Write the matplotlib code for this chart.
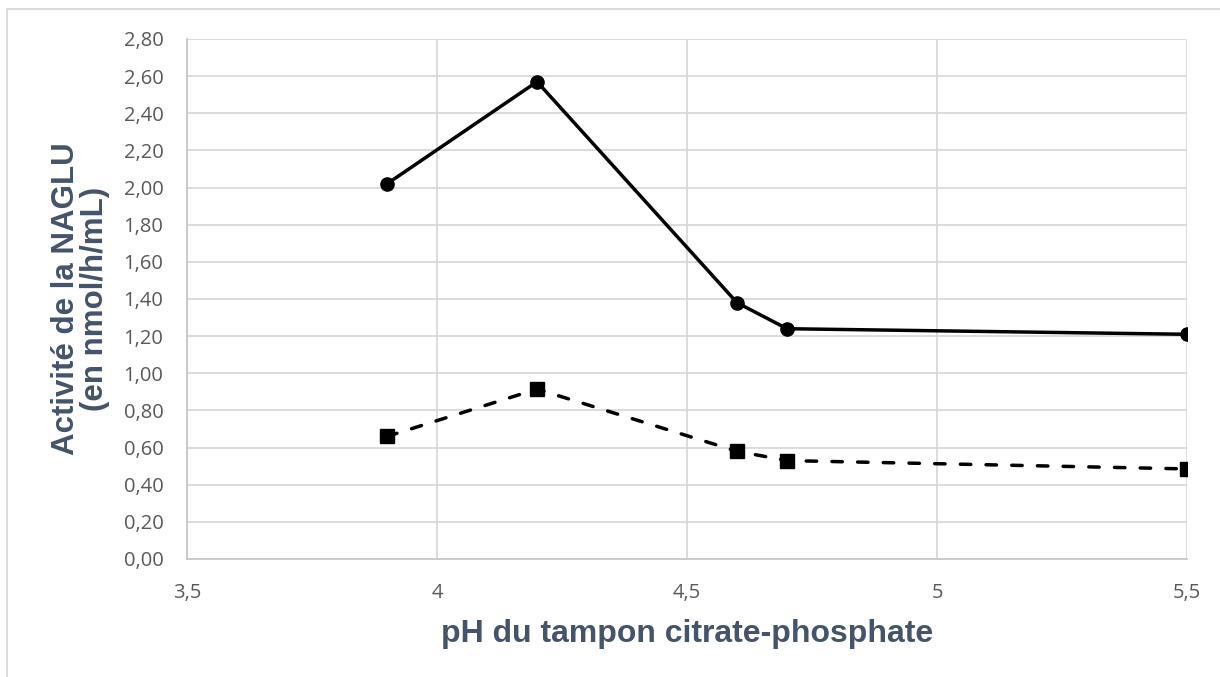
import matplotlib
matplotlib.use("Agg")
import matplotlib.pyplot as plt
from matplotlib.lines import Line2D
from matplotlib.ticker import FuncFormatter

ph = [3.9, 4.2, 4.6, 4.7, 5.5]
serie_pleine = [2.02, 2.57, 1.38, 1.24, 1.21]
serie_tirets = [0.66, 0.915, 0.58, 0.53, 0.485]
x_ticks = [3.5, 4.0, 4.5, 5.0, 5.5]
y_ticks = [0.0, 0.2, 0.4, 0.6, 0.8, 1.0, 1.2, 1.4, 1.6, 1.8, 2.0, 2.2, 2.4, 2.6, 2.8]
x_label = "pH du tampon citrate-phosphate"
y_label = "Activité de la NAGLU\n(en nmol/h/mL)"

fig = plt.figure(figsize=(12.2, 6.77), dpi=100)
ax = fig.add_axes([0.1533, 0.1743, 0.8197, 0.7681])

grid_c = "#D9D9D9"
ax.plot(ph, serie_pleine, color="black", lw=2.5, marker="o", ms=9.5,
        solid_capstyle="round", zorder=3)
ax.plot(ph, serie_tirets, color="black", lw=2.5, ls=(0, (3.0, 4.4)), marker="s", ms=10,
        dash_capstyle="round", zorder=3)

ax.set_xlim(3.5, 5.5)
ax.set_ylim(0, 2.8)
ax.set_xticks(x_ticks)
ax.set_yticks(y_ticks)

ax.xaxis.set_major_formatter(FuncFormatter(lambda v, p: ("%g" % v).replace(".", ",")))
ax.yaxis.set_major_formatter(FuncFormatter(lambda v, p: ("%.2f" % v).replace(".", ",")))

ax.grid(True, color=grid_c, lw=1.3)
ax.set_axisbelow(True)
for s in ["top", "right"]:
    ax.spines[s].set_visible(False)
for s in ["left", "bottom"]:
    ax.spines[s].set_color("#C8C8C8")
    ax.spines[s].set_linewidth(1.3)
ax.tick_params(length=0, labelsize=14.5, colors="#595959")
ax.tick_params(axis="y", pad=17)
ax.tick_params(axis="x", pad=17)
for lab in ax.get_xticklabels() + ax.get_yticklabels():
    lab.set_family("Open Sans")

ax.set_xlabel(x_label, fontsize=23, fontweight="bold", color="#44546A",
              family="Liberation Sans", labelpad=12)
ax.set_ylabel(y_label, fontsize=22.5, fontweight="bold", color="#44546A",
              family="Liberation Sans", labelpad=10, linespacing=0.95)

# outer chart border (top and left visible)
fig.add_artist(Line2D([7/1220, 1.0], [1 - 9/677, 1 - 9/677], transform=fig.transFigure,
                      color="#D9D9D9", lw=1.3))
fig.add_artist(Line2D([7/1220, 7/1220], [0.0, 1 - 9/677], transform=fig.transFigure,
                      color="#D9D9D9", lw=1.3))

fig.savefig("out.png", dpi=100, facecolor="white")
